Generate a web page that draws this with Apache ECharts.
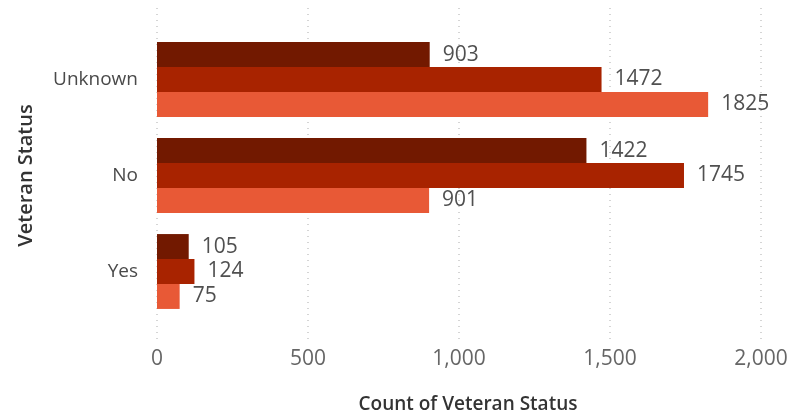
<!DOCTYPE html>
<html><head><meta charset="utf-8">
<script src="https://cdn.jsdelivr.net/npm/echarts@6/dist/echarts.min.js"></script>
<style>html,body{margin:0;padding:0;background:#fff}#c{width:795px;height:419px}</style>
</head><body><div id="c"></div>
<script>
var categories = ['Unknown', 'No', 'Yes'];
var series1 = [903, 1422, 105];
var series2 = [1472, 1745, 124];
var series3 = [1825, 901, 75];
var xTicks = [0, 500, 1000, 1500, 2000];
var colors = ['#721900', '#A82300', '#E85936'];
var FONT = '"Segoe UI", "Open Sans", "Noto Sans", sans-serif';

var chart = echarts.init(document.getElementById('c'));
function mk(name, data, color) {
  return {
    type: 'bar', name: name, data: data, xAxisIndex: 0, yAxisIndex: 0,
    itemStyle: { color: color },
    barGap: '0%', barCategoryGap: '22%',
    label: { show: true, position: 'right', distance: 13, color: '#505050', fontSize: 21, fontFamily: FONT },
    silent: true
  };
}
chart.setOption({
  animation: false,
  grid: [
    { left: 157, right: 34, top: 31.5, height: 288 },
    { left: 157, right: 34, top: 8, height: 344 }
  ],
  xAxis: [
    { gridIndex: 0, type: 'value', min: 0, max: 2000, interval: 500,
      axisLine: { show: false }, axisTick: { show: false }, axisLabel: { show: false }, splitLine: { show: false } },
    { gridIndex: 1, type: 'value', min: 0, max: 2000, interval: 500,
      axisLine: { show: false }, axisTick: { show: false },
      axisLabel: { color: '#666', fontSize: 21, fontFamily: FONT, margin: 8,
        formatter: function (v) { return v.toLocaleString('en-US'); } },
      splitLine: { show: true, lineStyle: { color: '#c8c8c8', type: [1, 5], width: 1.5 } },
      name: 'Count of Veteran Status', nameLocation: 'middle', nameGap: 54,
      nameTextStyle: { color: '#333', fontSize: 19, fontFamily: FONT, fontWeight: 600, padding: [0, 0, 0, 18] } }
  ],
  yAxis: [
    { gridIndex: 0, type: 'category', data: categories, inverse: true,
      axisLine: { show: false }, axisTick: { show: false },
      axisLabel: { color: '#4a4a4a', fontSize: 19, fontFamily: FONT, margin: 19, padding: [7, 0, 0, 0] },
      name: 'Veteran Status', nameLocation: 'middle', nameGap: 121, nameRotate: 90,
      nameTextStyle: { color: '#333', fontSize: 20, fontFamily: FONT, fontWeight: 600 } },
    { gridIndex: 1, type: 'value', show: false }
  ],
  series: [mk('S1', series1, colors[0]), mk('S2', series2, colors[1]), mk('S3', series3, colors[2])]
});
</script></body></html>
